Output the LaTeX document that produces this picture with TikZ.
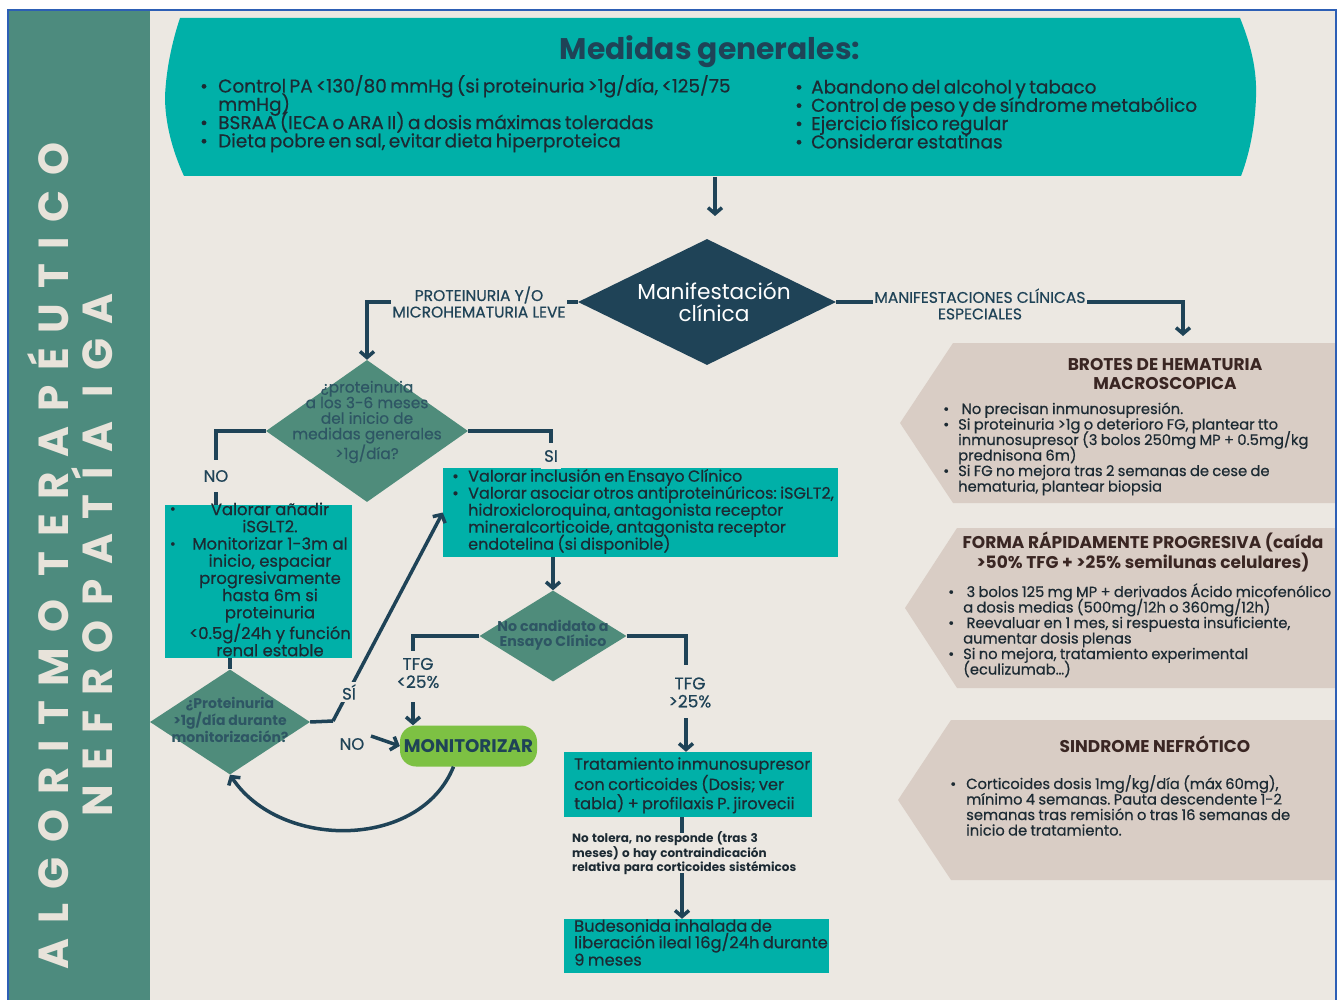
\documentclass[tikz,border=0pt]{standalone}
\usepackage{fontspec}
\setmainfont{Poppins}
\newfontfamily\medfont{Poppins}[FakeBold=0.5]
\newfontfamily\sidefont{Poppins}[LetterSpace=35]
\usetikzlibrary{shapes.geometric,arrows.meta,calc}
\definecolor{bgc}{HTML}{ECE8E2}
\definecolor{sidec}{HTML}{4D8B7E}
\definecolor{tealc}{HTML}{00B0A8}
\definecolor{dtealc}{HTML}{4F8C7B}
\definecolor{navyc}{HTML}{1F4357}
\definecolor{greenc}{HTML}{7DC143}
\definecolor{taupec}{HTML}{D9CDC5}
\definecolor{brownc}{HTML}{3A2623}
\definecolor{txtc}{HTML}{1C2A33}
\definecolor{dtxtc}{HTML}{2E5664}
\definecolor{framec}{HTML}{2D5FB5}
\definecolor{sidetxtc}{HTML}{E8E3DA}
\newcommand{\mybul}[2][15pt]{\hangindent=#1\hangafter=1\noindent\makebox[#1][l]{\textbullet}#2\par}
\newcommand{\mfs}[2]{\medfont\fontsize{#1}{#2}\selectfont\lineskiplimit=-30pt\relax}
\newcommand{\bfs}[2]{\bfseries\fontsize{#1}{#2}\selectfont\lineskiplimit=-30pt\relax}
\frenchspacing
\begin{document}
\begin{tikzpicture}[x=1pt,y=-1pt,
  ln/.style={draw=navyc, line width=3.5pt},
  arr/.style={draw=navyc, line width=3.5pt, -{Straight Barb[length=6pt,width=14pt]}},
  tealbox/.style={fill=tealc, inner sep=0pt},
  dia/.style={diamond, fill=dtealc, inner sep=0pt},
  lbl/.style={text=navyc, align=center, fill=bgc, inner sep=2pt, font=\medfont\fontsize{15.5}{16.5}\selectfont},
  yn/.style={text=navyc, align=center, inner sep=0pt, font=\medfont\fontsize{16.5}{18}\selectfont},
  dtext/.style={text=dtxtc, align=center, inner sep=0pt},
  body/.style={text=txtc, anchor=base west, inner sep=0pt, align=left},
  rtitle/.style={text=brownc, align=center, inner sep=0pt, font=\bfseries\fontsize{17}{18.5}\selectfont},
  rbody/.style={text=txtc, anchor=base west, inner sep=0pt, align=left, text width=392pt},
  sidet/.style={rotate=90, text=sidetxtc, inner sep=0pt, font=\sidefont\bfseries\fontsize{42}{44}\selectfont}
]
\useasboundingbox (0,0) rectangle (1340,1000);
\fill[white] (0,0) rectangle (1340,1000);
\fill[bgc] (8,10) rectangle (1336,1000);
\fill[sidec] (8,10) rectangle (150,1000);

% sidebar title
\node[sidet] (s1) at (48,556) {ALGORITMO TERAPÉUTICO};
\node[sidet] (s2) at (92,555) {NEFROPATÍA IGA};

% top box
\path[fill=tealc] (180,18) -- (1240,18) .. controls (1251,45) and (1257,70) .. (1256,97)
  .. controls (1255,128) and (1249,155) .. (1241,176) -- (184,176)
  .. controls (172,150) and (165,122) .. (165,97) .. controls (166,70) and (172,42) .. (180,18) -- cycle;
\node[text=navyc, font=\bfseries\fontsize{29.8}{32}\selectfont, inner sep=0pt] (medt) at (710,52) {Medidas generales:};
\node[body, text width=600pt] (medl) at (200,92.5)
  {\mfs{18.5}{18.3}\mybul[18pt]{Control PA <130/80 mmHg (si proteinuria >1g/día, <125/75\newline mmHg)}\mybul[18pt]{BSRAA (IECA o ARA II) a dosis máximas toleradas}\mybul[18pt]{Dieta pobre en sal, evitar dieta hiperproteica}};
\node[body, text width=440pt] (medr) at (795,93.5)
  {\mfs{18.5}{18.3}\mybul[16pt]{Abandono del alcohol y tabaco}\mybul[16pt]{Control de peso y de síndrome metabólico}\mybul[16pt]{Ejercicio físico regular}\mybul[16pt]{Considerar estatinas}};
\coordinate (topb) at (715,177);
\coordinate (a1) at (715,216);
\draw[arr] (topb) -- (a1);

% manifestacion
\node[diamond, fill=navyc, minimum width=258pt, minimum height=126pt, inner sep=0pt] (d1) at (707,302) {};
\node[text=white, align=center, inner sep=0pt, font=\fontsize{21.7}{22.5}\selectfont] (d1t) at (714,302) {Manifestación\\clínica};

% decision 2
\node[dia, minimum width=202pt, minimum height=142pt] (d2) at (367,431) {};
\node[dtext, font=\medfont\fontsize{15.4}{15.6}\selectfont] (d2t) at (367,422) {¿proteinuria\\a los 3-6 meses\\del inicio de\\medidas generales\\>1g/día?};

\coordinate (rend) at (1183,336);
\draw[arr] (d1.west) -| (d2.north);
\draw[arr] (d1.east) -| (rend);
\node[lbl] (l1) at (479,302) {PROTEINURIA Y/O\\MICROHEMATURIA LEVE};
\node[lbl] (l2) at (980,304) {MANIFESTACIONES CLÍNICAS\\ESPECIALES};

% box1
\node[tealbox, minimum width=187pt, minimum height=153pt] (box1) at (258.5,581.5) {};
\node[text=txtc, align=center, inner sep=0pt, font=\medfont\fontsize{16.4}{17.2}\selectfont] (box1t) at (270,579.5)
  {Valorar añadir\\iSGLT2.\\Monitorizar 1-3m al\\inicio, espaciar\\progresivamente\\hasta 6m si\\proteinuria\\<0.5g/24h y función\\renal estable};
\node[text=txtc, inner sep=0pt, font=\fontsize{15}{17}\selectfont] (b1a) at (173,511) {\textbullet};
\node[text=txtc, inner sep=0pt, font=\fontsize{15}{17}\selectfont] (b1b) at (173,546) {\textbullet};

% box2
\node[tealbox, minimum width=395pt, minimum height=89pt] (box2) at (640.5,512.5) {};
\node[body, text width=400pt] (box2t) at (452,481.7)
  {\mfs{16}{17}\mybul[16pt]{Valorar inclusión en Ensayo Clínico}\mybul[16pt]{Valorar asociar otros antiproteinúricos: iSGLT2,\newline hidroxicloroquina, antagonista receptor\newline mineralcorticoide, antagonista receptor\newline endotelina (si disponible)}};

\coordinate (nox) at (216,476);
\coordinate (six) at (551,456);
\draw[ln] (d2.west) -| (box1.north -| nox);
\draw[ln] (d2.east) -| (box2.north -| six);
\node[yn, fill=bgc, inner xsep=3pt, inner ysep=10pt] (no1) at (nox) {NO};
\node[yn, fill=bgc, inner xsep=3pt, inner ysep=7pt] (si1) at (six) {SI};

% decision 3
\node[dia, minimum width=147pt, minimum height=91pt] (d3) at (553,636) {};
\node[dtext, font=\bfseries\fontsize{14.2}{14.5}\selectfont] (d3t) at (553,635) {No candidato a\\Ensayo Clínico};
\draw[arr] (box2.south -| d3.north) -- (d3.north);

% monitorizar
\node[fill=greenc, rounded corners=16pt, minimum width=137pt, minimum height=41pt, inner sep=0pt, text=navyc, font=\bfseries\fontsize{18.3}{20}\selectfont] (mon) at (468.5,746) {MONITORIZAR};

% tratamiento
\node[tealbox, minimum width=248pt, minimum height=65pt] (trat) at (688,784.5) {};
\node[body, text width=250pt] (tratt) at (574,769.7)
  {\mfs{16.2}{16.5}Tratamiento inmunosupresor\newline con corticoides (Dosis; ver\newline tabla) + profilaxis P. jirovecii};

% budesonida
\node[tealbox, minimum width=265pt, minimum height=54pt] (bud) at (696.5,946) {};
\node[body, text width=270pt] (budt) at (574,931.7)
  {\mfs{16.3}{16}Budesonida inhalada de\newline liberación ileal 16g/24h durante\newline 9 meses};

\node[body, text width=250pt] (notol) at (572,842.5)
  {\bfs{12}{13.8}No tolera, no responde (tras 3\newline meses) o hay contraindicación\newline relativa para corticoides sistémicos};

% TFG branches
\node[yn, font=\medfont\fontsize{17}{18}\selectfont] (tfgl) at (418,673) {TFG\\<25\%};
\node[yn, font=\medfont\fontsize{17}{18}\selectfont] (tfgr) at (690,692.5) {TFG\\>25\%};
\coordinate (c1) at (413,651);
\coordinate (c2) at (413,702);
\coordinate (c3) at (686,665);
\coordinate (c4) at (686,718);
\draw[ln] (d3.west) -| (c1);
\draw[arr] (c2) -- (mon.north -| c2);
\draw[ln] (d3.east) -| (c3);
\draw[arr] (c4) -- (trat.north -| c4);

\coordinate (c5) at (682,833);
\coordinate (c6) at (682,873);
\draw[ln] (trat.south -| c5) -- (c5);
\draw[arr] (c6) -- (bud.north -| c6);

% decision 4
\node[dia, minimum width=160pt, minimum height=105pt] (d4) at (230,722) {};
\node[dtext, font=\bfseries\fontsize{14}{15}\selectfont] (d4t) at (230,720) {¿Proteinuria\\>1g/día durante\\monitorización?};
\draw[ln] (box1.south -| d4.north) -- (d4.north);
\coordinate (j) at (333,721);
\draw[ln] (d4.east) -- (j);
\draw[arr] (j) -- (box2.west);
\node[yn, fill=bgc, inner sep=2pt] (si2) at (349,692) {SÍ};
\node[yn] (no2) at (352,744) {NO};
\coordinate (c7) at (371,736);
\draw[arr] (c7) -- (mon.west);
\draw[arr] ([xshift=-15pt]mon.south) .. controls (420,850) and (280,850) .. (d4.south);

% right chevrons
\fill[taupec] (953,343) -- (1336,343) -- (1336,503) -- (953,503) -- (900,423) -- cycle;
\node[rtitle] (ta) at (1165,374) {BROTES DE HEMATURIA\\MACROSCOPICA};
\node[rbody] (ba) at (943,414)
  {\mfs{14.7}{15.5}\mybul[15pt]{ No precisan inmunosupresión.}\mybul[15pt]{Si proteinuria >1g o deterioro FG, plantear tto\newline inmunosupresor (3 bolos 250mg MP + 0.5mg/kg\newline prednisona 6m)}\mybul[15pt]{Si FG no mejora tras 2 semanas de cese de\newline hematuria, plantear biopsia}};

\fill[taupec] (957,528) -- (1336,528) -- (1336,688) -- (957,688) -- (905,608) -- cycle;
\node[rtitle] (tb) at (1143,552) {FORMA RÁPIDAMENTE PROGRESIVA (caída\\>50\% TFG + >25\% semilunas celulares)};
\node[rbody] (bb) at (948,597)
  {\mfs{14.7}{15.5}\mybul[15pt]{ 3 bolos 125 mg MP + derivados Ácido micofenólico\newline a dosis medias (500mg/12h o 360mg/12h)}\mybul[15pt]{ Reevaluar en 1 mes, si respuesta insuficiente,\newline aumentar dosis plenas}\mybul[15pt]{Si no mejora, tratamiento experimental\newline (eculizumab…)}};

\fill[taupec] (951,720) -- (1336,720) -- (1336,880) -- (951,880) -- (898,800) -- cycle;
\node[rtitle] (tc) at (1155,744) {SINDROME NEFRÓTICO};
\node[rbody] (bc) at (950,789)
  {\mfs{14.7}{15.5}\mybul[16pt]{Corticoides dosis 1mg/kg/día (máx 60mg),\newline mínimo 4 semanas. Pauta descendente 1-2\newline semanas tras remisión o tras 16 semanas de\newline inicio de tratamiento.}};

% frame
\draw[framec, line width=1.2pt] (8,1000) -- (8,10) -- (1336,10) -- (1336,1000);
\end{tikzpicture}
\end{document}
